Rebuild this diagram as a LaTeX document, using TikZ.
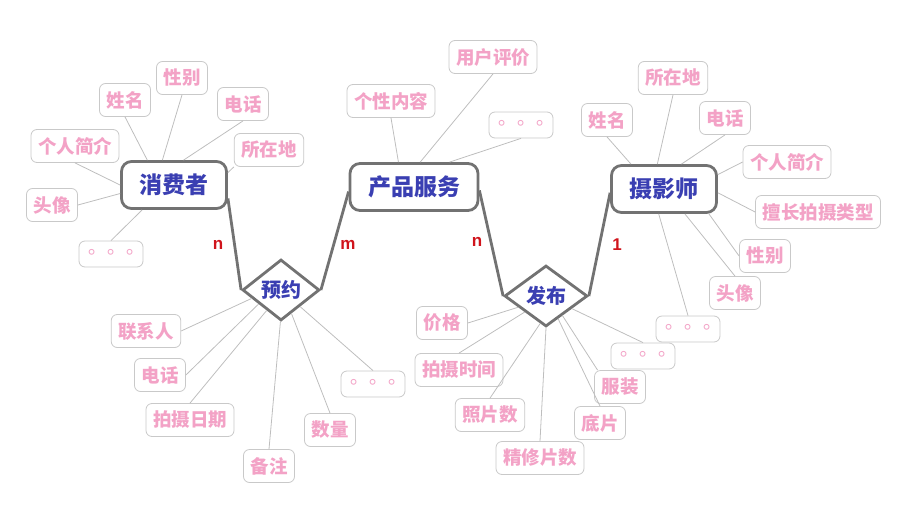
\documentclass[tikz,border=0pt]{standalone}
\usepackage{fontspec}
\usetikzlibrary{shapes.geometric}
\newfontfamily\cjk{Noto Sans CJK SC}
\newfontfamily\cjktc{Noto Sans CJK TC}
\newfontfamily\labfont{Liberation Sans}
\definecolor{entblue}{HTML}{3A3FB2}
\definecolor{attpink}{HTML}{F3A2C6}
\definecolor{lnk}{HTML}{727272}
\definecolor{attline}{HTML}{BEBEBE}
\definecolor{attborder}{HTML}{C9C9C9}
\definecolor{labred}{HTML}{D0141C}
\begin{document}
\begin{tikzpicture}[x=1pt,y=-1pt,
 entity/.style={draw=lnk, line width=2.8pt, rounded corners=10pt, fill=white, text=entblue,
   font=\cjk\bfseries\fontsize{23}{23}\selectfont, inner xsep=18pt, inner ysep=0pt,
   minimum height=47pt},
 rel/.style={diamond, draw=lnk, line width=2.8pt, fill=white, text=entblue,
   font=\cjk\bfseries\fontsize{20}{20}\selectfont, inner sep=0pt, minimum height=61pt},
 attr/.style={draw=attborder, line width=0.8pt, rounded corners=6pt, fill=white, text=attpink,
   font=\cjk\bfseries\fontsize{18.5}{18.5}\selectfont, inner xsep=7pt, inner ysep=0pt,
   minimum height=33pt},
 dots/.style={attr, font=\cjktc\fontsize{19}{19}\selectfont, minimum height=26pt,
   minimum width=64pt, inner xsep=3pt},
 card/.style={text=labred, font=\labfont\bfseries\fontsize{17}{17}\selectfont, inner sep=0pt},
 conn/.style={draw=lnk, line width=2.8pt},
 aline/.style={draw=attline, line width=0.8pt}]
\useasboundingbox (0,0) rectangle (916,509);

% entities
\node[entity] (xf) at (174,185) {消费者};
\node[entity] (cp) at (414,187) {产品服务};
\node[entity] (sy) at (664,189) {摄影师};
% relations
\node[rel, minimum width=77pt] (rv) at (281,290) {预约};
\node[rel, minimum width=83pt] (fb) at (546,296) {发布};

% cardinalities
\node[card] (k1) at (218,245) {n};
\node[card] (k2) at (348,245) {m};
\node[card] (k3) at (477,242) {n};
\node[card] (k4) at (617,245) {1};

% main connectors
\draw[conn] (xf.-14) -- (rv.west);
\draw[conn] (cp.-176) -- (rv.east);
\draw[conn] (cp.-3) -- (fb.west);
\draw[conn] (sy.-176) -- (fb.east);

% consumer attributes
\node[attr] (c1) at (125,100) {姓名};
\node[attr] (c2) at (182,78) {性别};
\node[attr] (c3) at (243,104) {电话};
\node[attr] (c4) at (269,150) {所在地};
\node[attr] (c5) at (75,146) {个人简介};
\node[attr] (c6) at (52,205) {头像};
\node[dots] (c7) at (111,254) {。。。};

% product attributes
\node[attr] (p1) at (391,101) {个性内容};
\node[attr] (p2) at (493,57) {用户评价};
\node[dots] (p3) at (521,125) {。。。};

% photographer attributes
\node[attr] (s1) at (607,120) {姓名};
\node[attr] (s2) at (673,78) {所在地};
\node[attr] (s3) at (725,118) {电话};
\node[attr] (s4) at (787,162) {个人简介};
\node[attr] (s5) at (818,212) {擅长拍摄类型};
\node[attr] (s6) at (765,256) {性别};
\node[attr] (s7) at (735,293) {头像};
\node[dots] (s8) at (688,329) {。。。};

% reservation attributes
\node[attr] (r1) at (146,331) {联系人};
\node[attr] (r2) at (160,375) {电话};
\node[attr] (r3) at (190,420) {拍摄日期};
\node[attr] (r4) at (269,466) {备注};
\node[attr] (r5) at (330,430) {数量};
\node[dots] (r6) at (373,384) {。。。};

% publish attributes
\node[attr] (f1) at (442,323) {价格};
\node[attr] (f2) at (459,370) {拍摄时间};
\node[attr] (f3) at (490,415) {照片数};
\node[attr] (f4) at (540,458) {精修片数};
\node[attr] (f5) at (600,423) {底片};
\node[attr] (f6) at (620,387) {服装};
\node[dots] (f7) at (643,356) {。。。};

\foreach \a/\b in {c1.south/xf.137, c2.south/xf.115, c3.south/xf.69, c4.south west/xf.13,
  c5.south/xf.180, c6.east/xf.-171, c7.north/xf.-142,
  p1.south/cp.122, p2.south/cp.76, p3.south/cp.35,
  s1.south/sy.143, s2.south/sy.105, s3.south/sy.55, s4.west/sy.15, s5.west/sy.-4,
  s6.west/sy.-29, s7.north/sy.-50, s8.north/sy.-102,
  r1.east/rv.-164, r2.east/rv.-148, r3.north/rv.-125, r4.north/rv.-91, r5.north/rv.-66, r6.north/rv.-41,
  f1.east/fb.-158, f2.north/fb.-143, f3.north/fb.-102, f4.north/fb.-90, f5.north/fb.-62,
  f6.143/fb.-50, f7.north/fb.-26}
  \draw[aline] (\a) -- (\b);
\end{tikzpicture}
\end{document}
